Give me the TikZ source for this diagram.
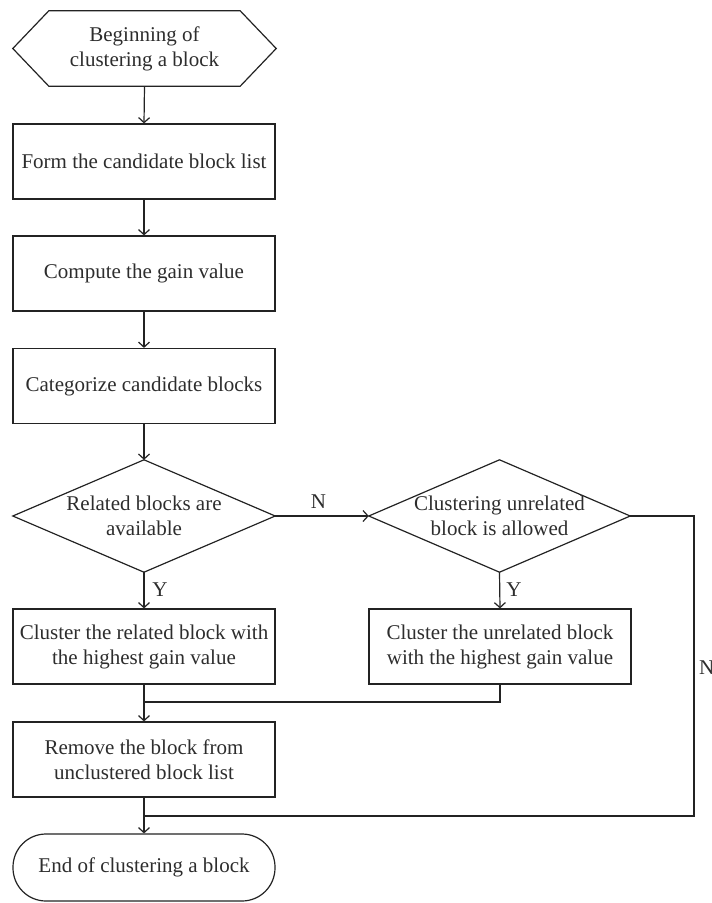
\documentclass[tikz,border=0pt]{standalone}
\usepackage{fontspec}
\setmainfont{Liberation Serif}
\usetikzlibrary{arrows.meta,calc}
\definecolor{lc}{RGB}{35,35,35}
\definecolor{tc}{RGB}{45,45,45}
\begin{document}
\begin{tikzpicture}[x=1pt,y=-1pt,
  base/.style={inner sep=0pt, text=tc, font=\fontsize{21}{25}\selectfont, align=center},
  box/.style={base, draw=lc, line width=1.2pt, minimum width=262pt, minimum height=75pt},
  outline/.style={base, minimum width=262pt},
  conn/.style={draw=lc, line width=1.2pt},
  arr/.style={conn, -{Straight Barb[length=5pt,width=11pt]}},
  lbl/.style={inner sep=0pt, text=tc, font=\fontsize{21}{25}\selectfont}
]
\useasboundingbox (0,0) rectangle (712,903);

% start hexagon
\node[outline, minimum width=263pt, minimum height=75pt] (start) at (144.5,48.5) {Beginning of\\clustering a block};
\draw[conn, line join=miter] (start.west) -- ($(start.north west)+(36,0)$) -- ($(start.north east)+(-36,0)$) -- (start.east) -- ($(start.south east)+(-36,0)$) -- ($(start.south west)+(36,0)$) -- cycle;

\node[box] (b1) at (144,161.5) {Form the candidate block list};
\node[box] (b2) at (144,273.5) {Compute the gain value};
\node[box] (b3) at (144,386) {Categorize candidate blocks};

% decisions
\node[outline, minimum height=112pt] (d1) at (144,516) {Related blocks are\\available};
\draw[conn, line join=miter] (d1.west) -- (d1.north) -- (d1.east) -- (d1.south) -- cycle;
\node[outline, minimum width=261pt, minimum height=112pt] (d2) at (499.5,516) {Clustering unrelated\\block is allowed};
\draw[conn, line join=miter] (d2.west) -- (d2.north) -- (d2.east) -- (d2.south) -- cycle;

\node[box] (b4) at (144,646.5) {Cluster the related block with\\the highest gain value};
\node[box] (b5) at (500,646.5) {Cluster the unrelated block\\with the highest gain value};
\node[box] (b6) at (144,759.5) {Remove the block from\\unclustered block list};
\node[box, rounded corners=33pt, minimum height=67pt] (end) at (144,867.5) {End of clustering a block};

% connectors
\draw[arr] (start.south) -- (b1.north);
\draw[arr] (b1.south) -- (b2.north);
\draw[arr] (b2.south) -- (b3.north);
\draw[arr] (b3.south) -- (d1.north);
\draw[arr] (d1.south) -- (b4.north);
\draw[arr] (d1.east) -- (d2.west);
\draw[arr] (d2.south) -- (b5.north);

\coordinate (m1) at (144,702);
\draw[conn] (b5.south) |- (m1);
\draw[arr] (b4.south) -- (b6.north);

\coordinate (r1) at (694,516);
\coordinate (r2) at (694,816);
\coordinate (m2) at (144,816);
\draw[conn] (d2.east) -- (r1) -- (r2) -- (m2);
\draw[arr] (b6.south) -- (end.north);

% labels
\node[lbl] (ly1) at (160,589.5) {Y};
\node[lbl] (ly2) at (514,589.5) {Y};
\node[lbl] (ln1) at (318.5,501.5) {N};
\node[lbl, anchor=west] (ln2) at (699,668) {N};
\end{tikzpicture}
\end{document}
